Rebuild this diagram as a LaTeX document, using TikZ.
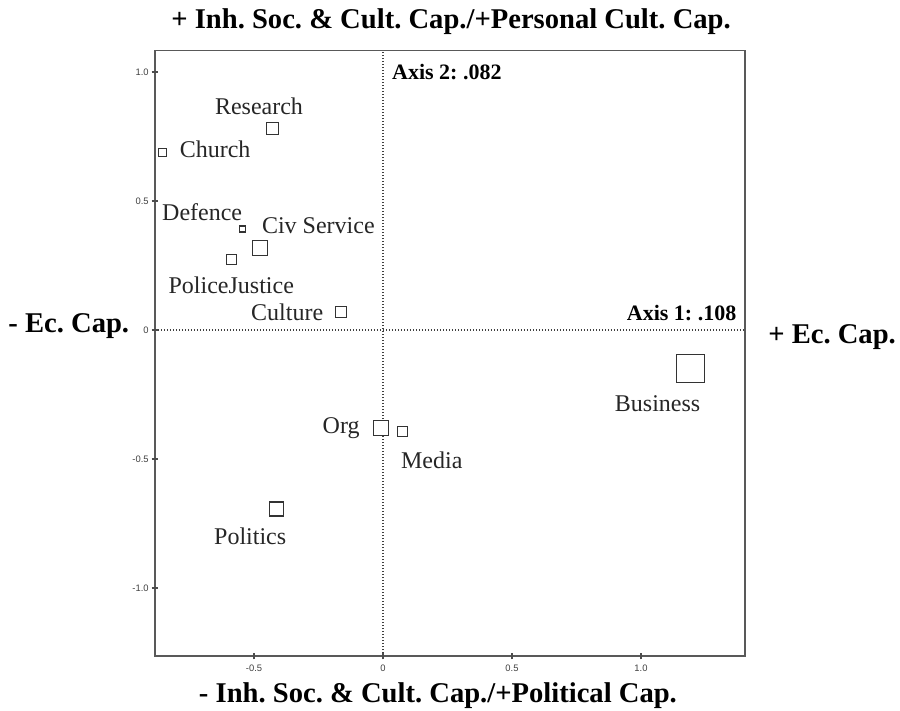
\documentclass[tikz,border=0pt]{standalone}
\usepackage{fontspec}
\setmainfont{Liberation Serif}
\setsansfont{Liberation Sans}
\usepackage{tikz}
\usetikzlibrary{positioning}
\frenchspacing

\begin{document}
\begin{tikzpicture}[x=129pt,y=129pt]
             \tikzstyle{frame}=[draw=black!65,line width=0.7pt]
             \tikzstyle{axisline}=[draw=black!75,line width=0.6pt,dash pattern=on 0.6pt off 0.9pt]
             \tikzstyle{tick}=[draw=black!70,line width=0.6pt]
             \tikzstyle{ticklbl}=[inner sep=0pt,font=\sffamily\fontsize{4.7}{5}\selectfont,text=black!75]
             \tikzstyle{modality}=[draw=black!80,line width=0.65pt,fill=white,inner sep=0pt,minimum size=#1]
             \tikzstyle{lbl}=[inner sep=0pt,font=\fontsize{12}{14}\selectfont,text=black!85]
             \tikzstyle{axislbl}=[inner sep=0pt,font=\bfseries\fontsize{11}{13}\selectfont]
             \tikzstyle{pole}=[inner sep=0pt,font=\bfseries\fontsize{14.3}{16}\selectfont]
            \useasboundingbox (-1.4845,-1.4729) rectangle (2.0039,1.2791);
            % plot frame and the two axes
            \draw [frame] (-0.884,-1.264) rectangle (1.403,1.083);
            \draw [axisline] (-0.884,0) -- (1.403,0);
            \draw [axisline] (0,-1.264) -- (0,1.083);
            % ticks, left side
            \draw [tick] (-0.897,1) -- (-0.871,1);
            \draw [tick] (-0.897,0.5) -- (-0.871,0.5);
            \draw [tick] (-0.897,0) -- (-0.871,0);
            \draw [tick] (-0.897,-0.5) -- (-0.871,-0.5);
            \draw [tick] (-0.897,-1) -- (-0.871,-1);
            \node [ticklbl, anchor=east] (yone) at (-0.907,1) {1.0};
            \node [ticklbl, anchor=east] (yhalf) at (-0.907,0.5) {0.5};
            \node [ticklbl, anchor=east] (yzero) at (-0.907,0) {0};
            \node [ticklbl, anchor=east] (ymhalf) at (-0.907,-0.5) {-0.5};
            \node [ticklbl, anchor=east] (ymone) at (-0.907,-1) {-1.0};
            % ticks, bottom side
            \draw [tick] (-0.5,-1.277) -- (-0.5,-1.251);
            \draw [tick] (0,-1.277) -- (0,-1.251);
            \draw [tick] (0.5,-1.277) -- (0.5,-1.251);
            \draw [tick] (1,-1.277) -- (1,-1.251);
            \node [ticklbl, anchor=north] (xmhalf) at (-0.5,-1.298) {-0.5};
            \node [ticklbl, anchor=north] (xzero) at (0,-1.298) {0};
            \node [ticklbl, anchor=north] (xhalf) at (0.5,-1.298) {0.5};
            \node [ticklbl, anchor=north] (xone) at (1,-1.298) {1.0};
            \node [axislbl, anchor=west] (axistwo) at (0.034,1.001) {Axis 2: .082};
            \node [axislbl, anchor=east] (axisone) at (1.371,0.065) {Axis 1: .108};
            % poles of the two axes
            \node [pole, anchor=base] (top) at (0.264,1.169) {+ Inh. Soc. \& Cult. Cap./+Personal Cult. Cap.};
            \node [pole, anchor=base] (bottom) at (0.213,-1.443) {- Inh. Soc. \& Cult. Cap./+Political Cap.};
            \node [pole, anchor=base west] (left) at (-1.4535,-0.0105) {- Ec. Cap.};
            \node [pole, anchor=base west] (right) at (1.492,-0.0517) {+ Ec. Cap.};
            % field modalities
            \node [modality=6pt] (research) at (-0.4275,0.7818) {};
            \node [modality=4pt] (church) at (-0.855,0.687) {};
            \node [modality=3pt] (defence) at (-0.544,0.391) {};
            \node [modality=7.5pt] (civservice) at (-0.477,0.319) {};
            \node [modality=5pt] (police) at (-0.586,0.274) {};
            \node [modality=5.5pt] (culture) at (-0.163,0.069) {};
            \node [modality=7.5pt] (org) at (-0.009,-0.381) {};
            \node [modality=5pt] (media) at (0.075,-0.394) {};
            \node [modality=7pt] (politics) at (-0.414,-0.694) {};
            \node [modality=14pt] (business) at (1.193,-0.148) {};
            \node [lbl] (researchlbl) at ([shift={(-6.85pt,11.15pt)}]research.center) {Research};
            \node [lbl, anchor=west] (churchlbl) at ([shift={(8.5pt,1.75pt)}]church.center) {Church};
            \node [lbl] (defencelbl) at ([shift={(-20.25pt,8.5pt)}]defence.center) {Defence};
            \node [lbl, anchor=west] (civservicelbl) at ([shift={(0.85pt,11.2pt)}]civservice.center) {Civ Service};
            \node [lbl] (policelbl) at ([shift={(-0.25pt,-13.1pt)}]police.center) {PoliceJustice};
            \node [lbl, left=5.6pt of culture] (culturelbl) {Culture};
            \node [lbl, anchor=base east] (orglbl) at ([shift={(-10.35pt,-2.5pt)}]org.center) {Org};
            \node [lbl] (medialbl) at ([shift={(14.7pt,-14.15pt)}]media.center) {Media};
            \node [lbl] (politicslbl) at ([shift={(-13pt,-13.4pt)}]politics.center) {Politics};
            \node [lbl] (businesslbl) at ([shift={(-16.6pt,-17.95pt)}]business.center) {Business};
         \end{tikzpicture}
\end{document}
